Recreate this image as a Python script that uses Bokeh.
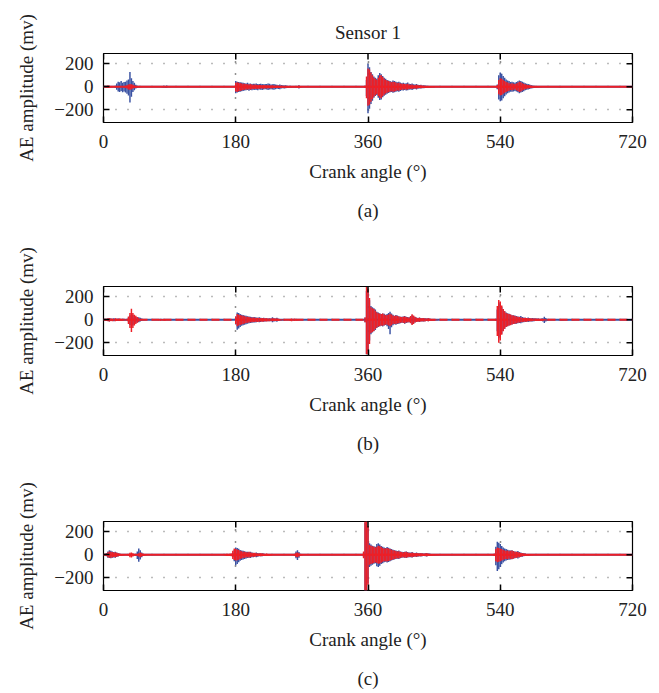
import math
from bokeh.plotting import figure
from bokeh.layouts import column
from bokeh.models import Range1d, FixedTicker, Title, ColumnDataSource
from bokeh.embed import file_html
from bokeh.resources import INLINE

FONT = "Liberation Serif"
BLUE = "#3A52A3"
RED = "#EE1F26"

X_TICKS = [0, 180, 360, 540, 720]
Y_TICKS = [-200, 0, 200]
Y_LABELS = ["\u2212200", "0", "200"]
BASE_X = [0, 720]
STEP = 2  # degrees between envelope samples

# ---------------- Panel (a) ----------------
A_BLUE_START = [16, 80, 180, 356, 536, 620]
A_BLUE_HI = [
    [10, 30, 45, 40, 50, 35, 42, 45, 55, 65, 130, 75, 50, 35, 18, 10, 6, 4, 3],
    [6, 10, 8, 12, 5, 3],
    [50, 45, 42, 40, 38, 35, 32, 30, 35, 28, 30, 25, 28, 26, 30, 25, 24, 28, 25, 22, 25, 24, 30, 26, 20, 22, 25, 20, 18, 15, 20, 16, 14, 12, 14, 10, 8, 10, 8, 6, 5, 8, 5, 14, 5, 3],
    [10, 60, 200, 170, 130, 110, 90, 80, 70, 100, 120, 110, 95, 80, 70, 60, 55, 50, 45, 55, 50, 45, 40, 45, 38, 32, 35, 30, 32, 38, 28, 25, 30, 22, 20, 24, 18, 16, 18, 12, 14, 12, 10, 8, 6, 5, 4, 3],
    [20, 100, 125, 115, 95, 80, 65, 55, 50, 42, 45, 40, 35, 42, 48, 55, 50, 45, 38, 32, 28, 24, 20, 16, 12, 10, 8, 6, 5, 4, 3],
    [5, 8, 4],
]
A_BLUE_LO = [
    [-10, -25, -40, -45, -35, -48, -40, -50, -60, -75, -135, -85, -45, -30, -15, -8, -5, -4, -3],
    [-5, -8, -10, -9, -4, -3],
    [-55, -50, -45, -42, -38, -36, -32, -30, -28, -33, -27, -30, -25, -28, -25, -30, -24, -25, -28, -22, -20, -24, -28, -22, -20, -24, -25, -20, -16, -18, -20, -15, -12, -14, -12, -9, -10, -8, -7, -6, -5, -7, -4, -14, -4, -3],
    [-10, -80, -230, -190, -150, -120, -95, -80, -70, -95, -115, -110, -90, -78, -68, -60, -54, -48, -45, -52, -48, -42, -38, -42, -35, -30, -32, -28, -32, -30, -25, -22, -28, -20, -18, -22, -16, -15, -15, -12, -12, -10, -9, -8, -6, -5, -4, -3],
    [-20, -110, -125, -118, -100, -82, -66, -55, -50, -42, -42, -40, -36, -40, -48, -55, -50, -44, -38, -30, -26, -22, -18, -15, -12, -9, -7, -6, -5, -4, -3],
    [-4, -6, -3],
]
A_RED_START = [4, 30, 180, 264, 356, 536]
A_RED_HI = [
    [8, 12, 10, 6, 4],
    [10, 15, 20, 25, 22, 18, 12, 8, 5],
    [35, 40, 36, 34, 30, 28, 26, 24, 22, 20, 24, 20, 18, 20, 18, 17, 19, 16, 15, 17, 14, 13, 14, 12, 12, 14, 10, 9, 11, 9, 8, 9, 7, 6, 7, 6, 5, 5, 4, 4, 3],
    [6, 10, 6],
    [10, 90, 160, 150, 125, 100, 80, 70, 60, 80, 100, 100, 85, 70, 60, 55, 50, 45, 40, 45, 42, 38, 32, 35, 30, 26, 26, 24, 22, 26, 20, 18, 20, 15, 15, 18, 13, 12, 13, 9, 10, 8, 7, 6, 5, 4, 3, 3],
    [15, 60, 75, 70, 60, 50, 42, 38, 32, 28, 32, 26, 24, 30, 36, 45, 40, 32, 26, 22, 18, 16, 13, 10, 8, 6, 5, 4, 3],
]
A_RED_LO = [
    [-6, -10, -8, -5, -3],
    [-10, -15, -22, -25, -20, -15, -10, -6, -4],
    [-40, -45, -38, -35, -32, -28, -26, -24, -22, -20, -22, -20, -18, -19, -17, -18, -17, -15, -15, -16, -13, -14, -13, -12, -12, -13, -10, -9, -10, -8, -8, -8, -6, -6, -6, -5, -5, -4, -4, -3, -3],
    [-6, -10, -5],
    [-10, -100, -165, -155, -130, -105, -85, -72, -62, -80, -95, -100, -82, -68, -58, -52, -48, -42, -38, -42, -40, -36, -30, -33, -28, -25, -24, -22, -22, -24, -19, -17, -18, -14, -14, -16, -12, -11, -12, -9, -9, -8, -7, -6, -5, -4, -3, -3],
    [-15, -65, -75, -70, -60, -52, -44, -38, -33, -28, -30, -26, -24, -30, -36, -45, -40, -32, -26, -21, -17, -15, -12, -10, -7, -6, -5, -4, -3],
]

# ---------------- Panel (b) ----------------
B_BLUE_START = [6, 34, 180, 356, 534, 620]
B_BLUE_HI = [
    [10, 15, 12, 8, 15, 10, 6, 12, 8, 5, 10, 8, 5],
    [20, 40, 60, 45, 30, 25, 20, 22, 18, 12, 8, 5],
    [30, 65, 60, 50, 45, 42, 38, 35, 32, 30, 28, 25, 22, 24, 20, 18, 22, 19, 15, 18, 15, 13, 12, 15, 12, 22, 15, 12, 18, 9, 7, 5, 4, 3],
    [20, 250, 240, 170, 120, 110, 100, 90, 70, 65, 58, 50, 56, 52, 44, 50, 60, 70, 55, 44, 36, 42, 38, 32, 28, 26, 30, 34, 28, 25, 22, 28, 40, 34, 25, 20, 17, 21, 17, 14, 17, 14, 11, 14, 11, 8, 7, 5, 4, 3],
    [10, 90, 150, 140, 115, 95, 75, 65, 58, 52, 46, 40, 40, 37, 33, 30, 27, 33, 24, 20, 19, 16, 20, 16, 14, 16, 14, 11, 12, 11, 8, 11, 14, 28, 16, 7, 4],
    [4, 6, 8, 5, 4, 3, 6, 4, 3, 5, 3],
]
B_BLUE_LO = [
    [-10, -14, -10, -8, -12, -10, -6, -10, -8, -5, -8, -6, -5],
    [-20, -45, -70, -50, -35, -25, -22, -20, -15, -10, -6, -4],
    [-40, -85, -75, -62, -52, -48, -42, -38, -34, -30, -28, -25, -23, -22, -20, -18, -20, -18, -15, -16, -15, -13, -12, -13, -12, -20, -15, -12, -16, -9, -7, -5, -4, -3],
    [-20, -300, -270, -180, -125, -110, -100, -88, -70, -62, -56, -52, -58, -50, -45, -55, -80, -125, -65, -48, -38, -42, -36, -33, -30, -25, -28, -33, -28, -22, -21, -25, -38, -30, -22, -19, -17, -19, -15, -14, -15, -12, -11, -12, -10, -8, -7, -5, -4, -3],
    [-10, -100, -160, -150, -120, -95, -78, -62, -56, -50, -45, -40, -37, -35, -33, -30, -27, -30, -24, -20, -18, -16, -19, -15, -14, -15, -12, -11, -11, -10, -8, -10, -14, -28, -14, -7, -4],
    [-4, -6, -7, -5, -3, -3, -5, -4, -3, -4, -3],
]
B_RED_START = [4, 32, 76, 180, 254, 356, 534]
B_RED_HI = [
    [8, 12, 15, 10, 12, 8, 14, 10, 6, 12, 8, 6, 10, 5],
    [10, 30, 60, 97, 60, 45, 35, 25, 15, 8],
    [6, 9, 8, 7, 5],
    [30, 50, 45, 42, 38, 35, 32, 28, 26, 24, 20, 19, 20, 18, 16, 19, 16, 14, 16, 14, 12, 14, 11, 12, 11, 14, 11, 9, 11, 8, 7, 5, 4, 3],
    [8, 12, 10, 12, 8, 6, 4],
    [20, 285, 270, 190, 110, 100, 95, 80, 65, 58, 52, 50, 55, 46, 40, 42, 46, 52, 46, 37, 33, 37, 33, 29, 26, 24, 26, 29, 24, 21, 20, 33, 48, 38, 26, 19, 16, 19, 15, 13, 16, 12, 11, 13, 9, 8, 7, 5, 4, 3],
    [10, 120, 172, 160, 125, 95, 75, 60, 52, 50, 46, 40, 37, 33, 29, 26, 24, 21, 19, 16, 19, 16, 13, 15, 12, 11, 12, 11, 8, 9, 8, 7, 8, 7, 5, 4],
]
B_RED_LO = [
    [-8, -12, -14, -10, -12, -8, -12, -10, -6, -10, -8, -6, -8, -5],
    [-10, -35, -70, -105, -70, -50, -35, -25, -15, -8],
    [-6, -9, -8, -7, -5],
    [-35, -55, -50, -45, -40, -36, -32, -28, -26, -24, -21, -20, -19, -18, -16, -18, -16, -15, -16, -14, -12, -14, -12, -12, -11, -12, -11, -9, -10, -8, -7, -5, -4, -3],
    [-8, -12, -10, -11, -8, -6, -4],
    [-20, -300, -300, -210, -115, -105, -98, -80, -66, -58, -55, -50, -52, -46, -40, -43, -50, -55, -46, -37, -34, -37, -32, -29, -26, -24, -26, -29, -24, -21, -20, -29, -45, -36, -24, -19, -16, -17, -15, -13, -15, -12, -11, -12, -9, -8, -7, -5, -4, -3],
    [-10, -140, -200, -180, -130, -100, -78, -62, -55, -50, -46, -40, -37, -33, -29, -26, -24, -21, -19, -16, -17, -16, -13, -13, -12, -11, -11, -9, -8, -8, -7, -7, -7, -5, -5, -4],
]

# ---------------- Panel (c) ----------------
C_BLUE_START = [4, 44, 176, 260, 354, 532]
C_BLUE_HI = [
    [15, 30, 40, 35, 30, 25, 28, 20, 15, 12, 8, 5],
    [10, 30, 55, 40, 20, 10, 5],
    [18, 45, 65, 60, 52, 42, 38, 35, 32, 28, 26, 24, 26, 20, 18, 16, 20, 16, 13, 11, 13, 11, 8, 5],
    [10, 30, 40, 25, 10, 4],
    [20, 280, 290, 240, 100, 90, 80, 75, 70, 95, 100, 90, 78, 70, 65, 60, 68, 62, 55, 50, 45, 40, 37, 33, 37, 29, 26, 24, 26, 29, 24, 21, 20, 24, 18, 16, 20, 16, 13, 16, 13, 11, 13, 16, 12, 11, 8, 7, 5, 5, 4, 3],
    [10, 70, 114, 105, 95, 78, 65, 55, 50, 45, 40, 37, 40, 33, 29, 26, 33, 24, 20, 16, 13, 11, 8, 7, 4],
]
C_BLUE_LO = [
    [-12, -25, -28, -30, -26, -22, -25, -18, -14, -10, -8, -5],
    [-10, -35, -60, -40, -20, -10, -5],
    [-18, -55, -90, -80, -65, -52, -45, -40, -35, -32, -28, -26, -28, -21, -20, -17, -20, -16, -13, -12, -13, -11, -8, -5],
    [-10, -30, -45, -25, -10, -4],
    [-20, -310, -310, -250, -105, -95, -85, -78, -72, -100, -105, -95, -80, -72, -65, -60, -66, -62, -55, -50, -45, -40, -37, -34, -35, -29, -26, -24, -26, -28, -24, -21, -20, -22, -18, -16, -18, -16, -13, -15, -13, -11, -12, -14, -11, -9, -8, -7, -5, -5, -4, -3],
    [-10, -90, -140, -125, -105, -82, -66, -56, -50, -45, -42, -40, -37, -34, -29, -26, -31, -24, -19, -16, -13, -11, -8, -7, -4],
]
C_RED_START = [4, 34, 46, 166, 260, 354, 532]
C_RED_HI = [
    [10, 22, 30, 28, 25, 20, 22, 18, 14, 10, 8, 6, 4],
    [8, 18, 20, 15, 6],
    [8, 15, 20, 15, 10, 6, 4],
    [6, 10, 8, 10, 12, 35, 55, 50, 46, 42, 36, 32, 28, 26, 24, 21, 26, 20, 18, 16, 18, 13, 12, 11, 13, 11, 9, 8, 11, 8, 7, 5],
    [8, 18, 20, 14, 8, 4],
    [30, 300, 300, 250, 85, 80, 75, 70, 65, 70, 80, 75, 70, 60, 55, 55, 60, 55, 50, 45, 40, 37, 33, 29, 32, 26, 24, 21, 24, 26, 21, 18, 17, 21, 16, 15, 16, 13, 12, 13, 11, 9, 11, 13, 9, 8, 7, 5, 5, 4, 3, 3],
    [10, 50, 65, 60, 55, 50, 42, 38, 35, 38, 32, 36, 38, 32, 28, 26, 24, 20, 16, 13, 11, 9, 8, 7, 5, 4, 3],
]
C_RED_LO = [
    [-10, -20, -25, -26, -22, -18, -20, -16, -12, -10, -7, -5, -4],
    [-8, -20, -22, -15, -6],
    [-8, -15, -20, -15, -10, -6, -4],
    [-6, -10, -8, -10, -12, -35, -45, -50, -46, -42, -36, -32, -28, -26, -24, -21, -24, -20, -17, -16, -17, -13, -12, -11, -12, -11, -9, -8, -10, -8, -7, -5],
    [-8, -18, -20, -14, -8, -4],
    [-30, -320, -320, -260, -85, -80, -75, -70, -65, -70, -78, -75, -68, -60, -55, -55, -58, -54, -50, -45, -40, -37, -33, -29, -31, -26, -24, -21, -23, -25, -20, -18, -17, -20, -16, -15, -16, -13, -12, -13, -11, -9, -10, -12, -9, -8, -7, -5, -5, -4, -3, -3],
    [-10, -55, -65, -60, -55, -50, -42, -38, -35, -38, -32, -35, -38, -32, -28, -26, -24, -20, -16, -13, -11, -9, -8, -7, -5, -4, -3],
]


def expand(starts, his, los):
    xs, tops, bots = [], [], []
    for s, hi, lo in zip(starts, his, los):
        for i, (h, l) in enumerate(zip(hi, lo)):
            xs.append(s + STEP * i)
            tops.append(h)
            bots.append(l)
    return ColumnDataSource(dict(x=xs, top=tops, bottom=bots))


def panel(title, caption, blue, red, red_dash, top_border, bottom_border):
    p = figure(frame_width=529, frame_height=69,
               x_range=Range1d(0, 720), y_range=Range1d(-310, 290),
               output_backend="svg", toolbar_location=None,
               min_border_left=103, min_border_right=27,
               min_border_top=top_border, min_border_bottom=bottom_border,
               background_fill_color="white", border_fill_color="white",
               outline_line_color="black", outline_line_width=1.2)
    p.title.text = title
    p.title.align = "center"
    p.title.text_font = FONT
    p.title.text_font_size = "19px"
    p.title.text_font_style = "normal"
    p.title.text_color = "#222222"
    p.title.standoff = 22

    # signal baselines and envelope samples
    p.line(BASE_X, [0, 0], line_color=BLUE, line_width=2)
    p.vbar(x="x", top="top", bottom="bottom", width=STEP, source=expand(*blue),
           fill_color=BLUE, line_color=None)
    if red_dash:
        p.line(BASE_X, [0, 0], line_color=RED, line_width=2, line_dash="8 4")
    else:
        p.line(BASE_X, [0, 0], line_color=RED, line_width=2)
    p.vbar(x="x", top="top", bottom="bottom", width=STEP, source=expand(*red),
           fill_color=RED, line_color=None)

    # grid
    p.xgrid.ticker = FixedTicker(ticks=X_TICKS)
    p.ygrid.ticker = FixedTicker(ticks=Y_TICKS)
    p.xgrid.grid_line_color = "#222222"
    p.ygrid.grid_line_color = "#777777"
    for g in (p.xgrid, p.ygrid):
        g.grid_line_dash = "1 11"
        g.grid_line_width = 1.5

    overrides = {float(t): lab for t, lab in zip(Y_TICKS, Y_LABELS)}

    p.xaxis.ticker = FixedTicker(ticks=X_TICKS)
    p.yaxis.ticker = FixedTicker(ticks=Y_TICKS)
    p.yaxis.major_label_overrides = overrides
    p.xaxis.axis_label = "Crank angle (\u00b0)"
    p.yaxis.axis_label = "AE amplitude (mv)"
    for ax in (p.xaxis, p.yaxis):
        ax.axis_line_color = None
        ax.major_tick_in = 6
        ax.major_tick_out = 0
        ax.major_tick_line_color = "black"
        ax.major_tick_line_width = 1.5
        ax.minor_tick_line_color = None
        ax.major_label_text_font = FONT
        ax.major_label_text_font_size = "19px"
        ax.major_label_text_color = "#222222"
        ax.axis_label_text_font = FONT
        ax.axis_label_text_font_size = "19px"
        ax.axis_label_text_font_style = "normal"
        ax.axis_label_text_color = "#222222"
    p.xaxis.major_label_standoff = 12
    p.xaxis.axis_label_standoff = 10
    p.yaxis.major_label_standoff = 10
    p.yaxis.axis_label_standoff = 14

    # mirrored inward ticks on the top and right edges (half of each dash is clipped by the frame)
    p.scatter(X_TICKS, [p.y_range.end] * len(X_TICKS), marker="dash", size=12,
              angle=math.pi / 2, line_color="black", line_width=1.5)
    p.scatter([p.x_range.end] * len(Y_TICKS), Y_TICKS, marker="dash", size=12,
              line_color="black", line_width=1.5)

    cap = Title(text=caption, align="center", text_font=FONT, text_font_size="19px",
                text_font_style="normal", text_color="#222222", standoff=26)
    p.add_layout(cap, "below")
    return p


pa = panel("Sensor 1", "(a)",
           (A_BLUE_START, A_BLUE_HI, A_BLUE_LO), (A_RED_START, A_RED_HI, A_RED_LO),
           False, 53, 118)
pb = panel("", "(b)",
           (B_BLUE_START, B_BLUE_HI, B_BLUE_LO), (B_RED_START, B_RED_HI, B_RED_LO),
           True, 46, 119)
pc = panel("", "(c)",
           (C_BLUE_START, C_BLUE_HI, C_BLUE_LO), (C_RED_START, C_RED_HI, C_RED_LO),
           False, 47, 92)

layout = column(pa, pb, pc, spacing=0)
open("out.html", "w").write(file_html(layout, INLINE))
